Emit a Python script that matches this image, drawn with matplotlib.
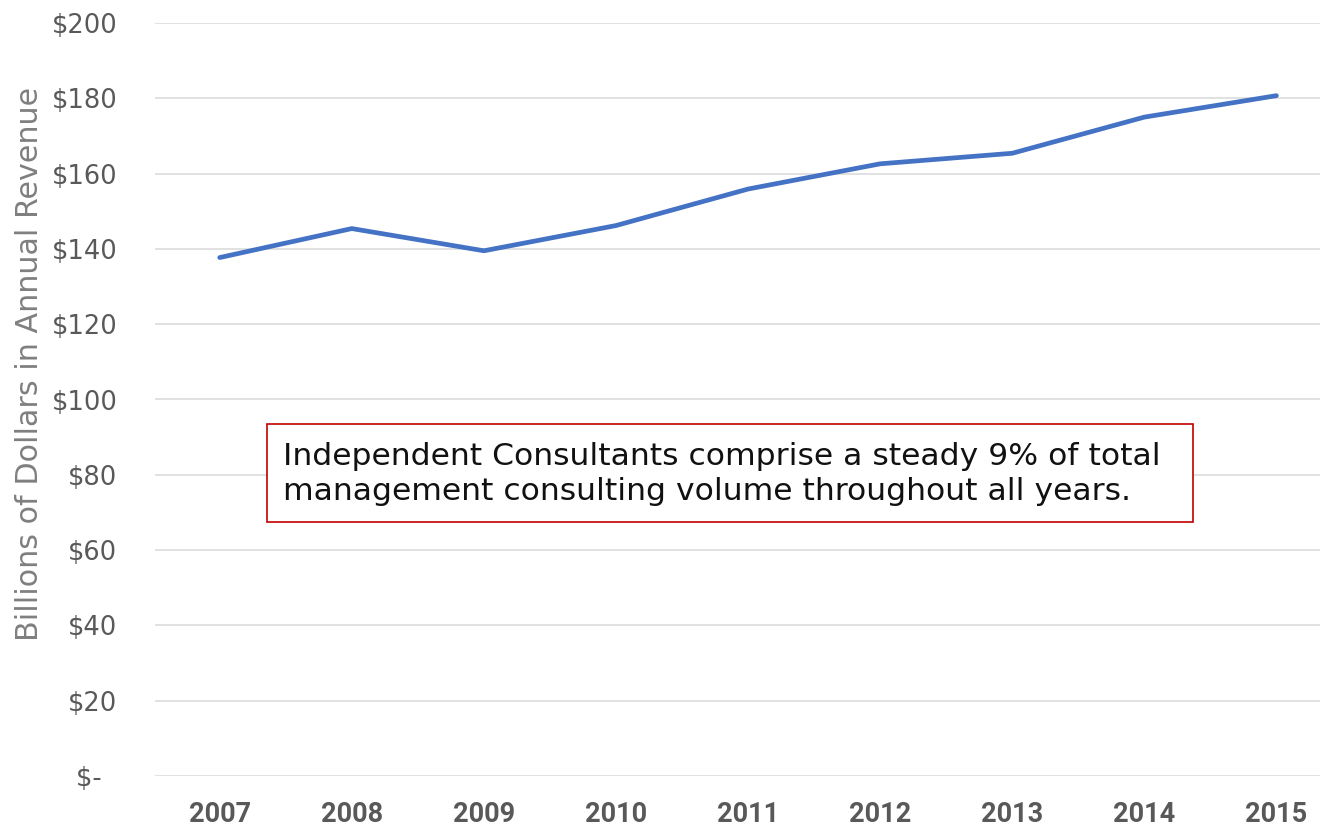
import matplotlib
matplotlib.use("Agg")
import matplotlib.pyplot as plt
from matplotlib.patches import Rectangle
from matplotlib.ticker import FixedLocator, FuncFormatter

years = ["2007", "2008", "2009", "2010", "2011", "2012", "2013", "2014", "2015"]
revenue = [137.7, 145.4, 139.5, 146.2, 155.9, 162.6, 165.4, 175.0, 180.7]
y_ticks = [0, 20, 40, 60, 80, 100, 120, 140, 160, 180, 200]
note = ("Independent Consultants comprise a steady 9% of total\n"
        "management consulting volume throughout all years.")
ylabel = "Billions of Dollars in Annual Revenue"

W, H = 1326, 830
fig = plt.figure(figsize=(W / 100, H / 100), dpi=100)
ax = fig.add_axes([155 / W, (H - 776) / H, (1320 - 155) / W, (776 - 23) / H])

x = list(range(len(years)))
ax.plot(x, revenue, color="#4472C4", lw=3.4, solid_capstyle="round",
        solid_joinstyle="round", zorder=3)

ax.set_xlim(-0.49, 8.33)
ax.set_ylim(0, 200)
ax.yaxis.set_major_locator(FixedLocator(y_ticks))
ax.yaxis.set_major_formatter(FuncFormatter(lambda v, p: "$-\u2007" if v == 0 else f"${int(v)}"))
ax.set_xticks(x)
ax.set_xticklabels(years)
ax.grid(axis="y", color="#D9D9D9", lw=1.1)
ax.set_axisbelow(True)
for s in ax.spines.values():
    s.set_visible(False)
ax.tick_params(axis="both", length=0)
ax.tick_params(axis="y", pad=27, labelsize=18.5, labelcolor="#595959")
ax.tick_params(axis="x", pad=18, labelsize=19.5, labelcolor="#595959")
for t in ax.get_xticklabels():
    t.set_fontweight("bold")
    t.set_fontfamily("Roboto")
for t in ax.get_yticklabels():
    t.set_fontfamily("DejaVu Sans")

fig.text(30 / W, 1 - 364 / H, ylabel, rotation=90, ha="center", va="center",
         fontsize=21.7, color="#7F7F7F", fontfamily="DejaVu Sans")

fig.patches.append(Rectangle((267 / W, 1 - 522 / H), (1193 - 267) / W, (522 - 424) / H,
                             transform=fig.transFigure, facecolor="white",
                             edgecolor="#C00000", lw=1.2, zorder=5))
fig.text(283 / W, 1 - 474 / H, note, ha="left", va="center", fontsize=22.6,
         color="#111111", fontfamily="DejaVu Sans", linespacing=1.25, zorder=6)

fig.savefig("out.png", dpi=100)
